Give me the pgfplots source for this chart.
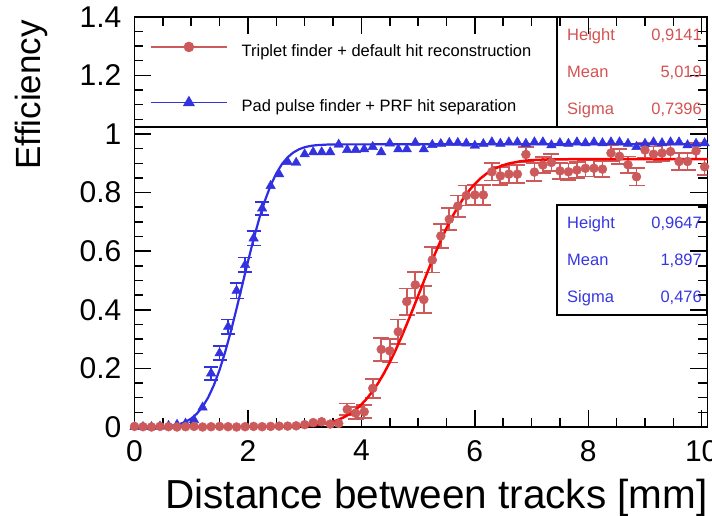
\documentclass[border=0pt]{standalone}
\usepackage{fontspec}
\setmainfont{Liberation Sans}
\usepackage{pgfplots}
\pgfplotsset{compat=1.18}
\definecolor{ptred}{RGB}{205,90,90}
\definecolor{txtred}{RGB}{212,82,82}
\definecolor{fitred}{RGB}{255,0,0}
\definecolor{ptblue}{RGB}{50,50,222}
\definecolor{fitblue}{RGB}{45,45,230}
\definecolor{txtblue}{RGB}{55,55,225}

% Triplet finder: points without visible error bars
\pgfplotstableread{
x y
0.00 0.002
0.15 0.001
0.30 0.000
0.45 0.002
0.60 0.001
0.75 0.000
0.90 0.001
1.05 0.002
1.20 0.000
1.35 0.001
1.50 0.002
1.65 0.001
1.80 0.000
1.95 0.001
2.10 0.002
2.25 0.001
2.40 0.002
2.55 0.003
2.70 0.003
2.85 0.004
3.00 0.008
3.15 0.015
3.30 0.018
3.45 0.010
3.60 0.012
}\redlow

% Triplet finder: points with error bars
\pgfplotstableread{
x y e
3.75 0.060 0.020
3.90 0.047 0.020
4.05 0.052 0.022
4.20 0.132 0.033
4.35 0.265 0.040
4.50 0.260 0.040
4.65 0.325 0.042
4.80 0.428 0.045
4.95 0.485 0.045
5.10 0.435 0.045
5.25 0.570 0.043
5.40 0.652 0.040
5.55 0.709 0.038
5.70 0.754 0.036
5.85 0.790 0.034
6.00 0.792 0.034
6.15 0.792 0.034
6.30 0.871 0.030
6.45 0.857 0.030
6.60 0.863 0.030
6.75 0.863 0.030
6.90 0.930 0.026
7.05 0.870 0.030
7.20 0.894 0.028
7.35 0.903 0.028
7.50 0.874 0.028
7.65 0.871 0.028
7.80 0.877 0.028
7.95 0.883 0.028
8.10 0.883 0.028
8.25 0.880 0.028
8.40 0.935 0.026
8.55 0.924 0.026
8.70 0.895 0.028
8.85 0.854 0.030
9.00 0.945 0.026
9.15 0.931 0.026
9.30 0.935 0.026
9.45 0.940 0.026
9.60 0.906 0.028
9.75 0.906 0.028
9.90 0.942 0.026
10.05 0.888 0.028
}\redhigh

% Pad pulse finder: points without visible error bars
\pgfplotstableread{
x y
0.00 0.000
0.15 0.000
0.30 0.000
0.45 0.002
0.60 0.004
0.75 0.008
0.90 0.012
1.05 0.024
1.20 0.067
2.40 0.823
2.55 0.863
2.70 0.905
2.85 0.902
3.00 0.931
3.15 0.938
3.30 0.938
3.45 0.938
3.60 0.964
3.75 0.946
3.90 0.946
4.05 0.948
4.20 0.956
4.35 0.938
4.50 0.968
4.65 0.948
4.80 0.948
4.95 0.970
5.10 0.948
5.25 0.963
5.40 0.966
5.55 0.970
5.70 0.970
5.85 0.968
6.00 0.960
6.15 0.966
6.30 0.972
6.45 0.967
6.60 0.972
6.75 0.972
6.90 0.967
7.05 0.972
7.20 0.972
7.35 0.962
7.50 0.969
7.65 0.967
7.80 0.972
7.95 0.969
8.10 0.972
8.25 0.969
8.40 0.972
8.55 0.972
8.70 0.967
8.85 0.956
9.00 0.967
9.15 0.972
9.30 0.969
9.45 0.972
9.60 0.972
9.75 0.962
9.90 0.967
10.05 0.969
}\bluenobar

% Pad pulse finder: points with error bars
\pgfplotstableread{
x y e
1.35 0.183 0.022
1.50 0.252 0.024
1.65 0.342 0.025
1.80 0.465 0.026
1.95 0.553 0.025
2.10 0.644 0.024
2.25 0.746 0.022
}\bluebar

\begin{document}
\begin{tikzpicture}[x=1pt,y=1pt]
\useasboundingbox (0,0) rectangle (712,516);
\begin{axis}[
  at={(134.5pt,89pt)}, anchor=south west,
  scale only axis, width=572.9pt, height=410.2pt,
  xmin=0, xmax=10.1, ymin=0, ymax=1.4,
  xtick={0,2,4,6,8,10}, ytick={0,0.2,0.4,0.6,0.8,1,1.2,1.4},
  minor x tick num=3, minor y tick num=3,
  major tick length=17pt, minor tick length=9pt,
  tick style={line width=1.5pt, black},
  axis line style={line width=1.6pt},
  /pgf/number format/assume math mode=true,
  xticklabel style={font=\fontsize{30}{36}\selectfont, anchor=north, inner sep=0pt, yshift=-13pt},
  yticklabel style={font=\fontsize{30}{36}\selectfont, anchor=east, inner sep=0pt, xshift=-13pt},
  xlabel={Distance between tracks [mm]},
  xlabel style={font=\fontsize{40.5}{48}\selectfont, at={(axis description cs:1.001,-0.1975)}, anchor=base east, inner sep=0pt},
  ylabel={Efficiency},
  ylabel style={font=\fontsize{35}{42}\selectfont, at={(axis description cs:-0.179,0.992)}, anchor=east, inner sep=0pt},
  legend image code/.code={\draw[mark repeat=2,mark phase=2,#1] plot coordinates {(0pt,4pt) (38pt,4pt) (76pt,4pt)};},
  legend style={at={(axis description cs:0.027,0.938)}, anchor=north west, draw=none, fill=none,
    font=\fontsize{16.5}{19}\selectfont, row sep=39.5pt, column sep=14pt, inner sep=0pt, nodes={inner sep=0pt}},
  legend cell align=left,
]
\addlegendimage{ptred, line width=1.5pt, mark=*, mark size=4.5pt}
\addlegendentry{Triplet finder + default hit reconstruction}
\addlegendimage{ptblue, line width=1.5pt, mark=triangle*, mark size=5.5pt}
\addlegendentry{Pad pulse finder + PRF hit separation}

% Pad pulse finder + PRF hit separation
\addplot[forget plot, fitblue, line width=2.2pt] coordinates {
(0,0) (0.3,0.0004) (0.4,0.0008) (0.5,0.0016) (0.6,0.0031) (0.7,0.0057) (0.8,0.0102)
(0.9,0.0175) (1.0,0.0287) (1.1,0.0454) (1.2,0.0691) (1.3,0.1012) (1.4,0.1430) (1.5,0.1950)
(1.6,0.2569) (1.7,0.3275) (1.8,0.4044) (1.9,0.4848) (2.0,0.5650) (2.1,0.6416) (2.2,0.7119)
(2.3,0.7731) (2.4,0.8245) (2.5,0.8657) (2.6,0.8974) (2.7,0.9205) (2.8,0.9368) (2.9,0.9477)
(3.0,0.9549) (3.1,0.9592) (3.2,0.9617) (3.4,0.9639) (3.7,0.9646) (4.5,0.9647) (10.1,0.9647)};

\addplot[forget plot, only marks, mark=triangle*, mark size=5.5pt, color=ptblue]
  table[x=x, y=y] {\bluenobar};

\addplot[forget plot, only marks, mark=triangle*, mark size=5.5pt, color=ptblue,
  error bars/.cd, y dir=both, y explicit,
  error bar style={line width=1.6pt, ptblue},
  error mark options={rotate=90, line width=1.6pt, ptblue, mark size=7pt}]
  table[x=x, y=y, y error=e] {\bluebar};

% Triplet finder + default hit reconstruction
\addplot[forget plot, only marks, mark=*, mark size=4.5pt, color=ptred]
  table[x=x, y=y] {\redlow};

\addplot[forget plot, only marks, mark=*, mark size=4.5pt, color=ptred,
  error bars/.cd, y dir=both, y explicit,
  error bar style={line width=1.8pt, ptred},
  error mark options={rotate=90, line width=1.8pt, ptred, mark size=8pt}]
  table[x=x, y=y, y error=e] {\redhigh};

\addplot[forget plot, fitred, line width=2.5pt] coordinates {
(0,0) (2.0,0) (2.5,0.0003) (2.8,0.0012) (3.0,0.0029) (3.2,0.0064) (3.4,0.0131) (3.5,0.0183)
(3.6,0.0251) (3.7,0.0341) (3.8,0.0454) (3.9,0.0595) (4.0,0.0769) (4.1,0.0978) (4.2,0.1226)
(4.3,0.1513) (4.4,0.1840) (4.5,0.2207) (4.6,0.2610) (4.7,0.3046) (4.8,0.3506) (4.9,0.3986)
(5.0,0.4476) (5.1,0.4969) (5.2,0.5454) (5.3,0.5923) (5.4,0.6370) (5.5,0.6785) (5.6,0.7167)
(5.7,0.7508) (5.8,0.7811) (5.9,0.8073) (6.0,0.8296) (6.1,0.8484) (6.2,0.8637) (6.3,0.8761)
(6.4,0.8859) (6.5,0.8934) (6.6,0.8992) (6.8,0.9068) (7.0,0.9107) (7.3,0.9132) (7.7,0.9139)
(8.5,0.9141) (10.1,0.9141)};
\end{axis}

% legend box and fit-parameter boxes
\draw[line width=1.2pt] (134.5,499.2) rectangle (557,389);
\draw[line width=2pt] (557,499.2) rectangle (707.4,389);
\draw[line width=2pt] (557,311) rectangle (707.4,201);

\begin{scope}[every node/.style={inner sep=0pt, font=\fontsize{16.5}{19}\selectfont}]
\node[anchor=base west, text=txtred] at (567,475) {Height};
\node[anchor=base west, text=txtred] at (567,438) {Mean};
\node[anchor=base west, text=txtred] at (567,401) {Sigma};
\node[anchor=base east, text=txtred] at (702,475) {0,9141};
\node[anchor=base east, text=txtred] at (702,438) {5,019};
\node[anchor=base east, text=txtred] at (702,401) {0,7396};
\node[anchor=base west, text=txtblue] at (567,287) {Height};
\node[anchor=base west, text=txtblue] at (567,250) {Mean};
\node[anchor=base west, text=txtblue] at (567,213) {Sigma};
\node[anchor=base east, text=txtblue] at (702,287) {0,9647};
\node[anchor=base east, text=txtblue] at (702,250) {1,897};
\node[anchor=base east, text=txtblue] at (702,213) {0,476};
\end{scope}
\end{tikzpicture}
\end{document}
